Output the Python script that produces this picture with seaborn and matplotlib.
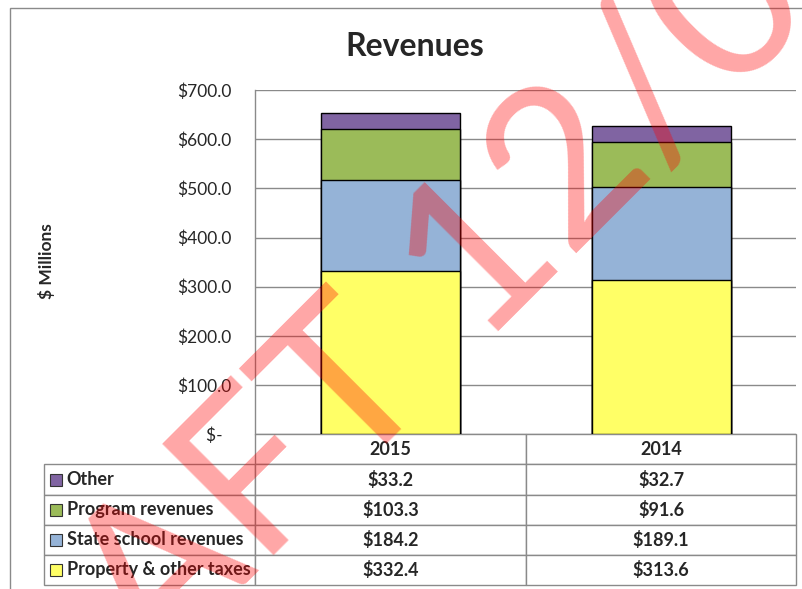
import pandas as pd
import matplotlib
matplotlib.use("Agg")
import matplotlib.pyplot as plt
import seaborn as sns
from matplotlib.patches import Rectangle

# data ($ millions)
years = ["2015", "2014"]
categories = ["Other", "Program revenues", "State school revenues", "Property & other taxes"]
other = [33.2, 32.7]
program = [103.3, 91.6]
state_school = [184.2, 189.1]
property_tax = [332.4, 313.6]
colors = ["#8064A2", "#9BBB59", "#95B3D7", "#FFFF66"]
yticks = [0, 100, 200, 300, 400, 500, 600, 700]

sns.set_style("white")
plt.rcParams["font.family"] = ["Lato", "DejaVu Sans"]

fig = plt.figure(figsize=(8.03, 5.89), dpi=100)
ax = fig.add_axes([255.25 / 803, 1 - 434.3 / 589, 541.25 / 803, 344.3 / 589])

# stacked bars drawn as cumulative overlays (top layer first)
df = pd.DataFrame({"year": years, "other": other, "program": program,
                   "state": state_school, "property": property_tax})
df["c_property"] = df["property"]
df["c_state"] = df["c_property"] + df["state"]
df["c_program"] = df["c_state"] + df["program"]
df["c_other"] = df["c_program"] + df["other"]

for col, c in zip(["c_other", "c_program", "c_state", "c_property"], colors):
    sns.barplot(data=df, x="year", y=col, order=years, color=c, width=0.514,
                edgecolor="black", linewidth=1.0, saturation=1, ax=ax, zorder=3)

ax.set_ylim(0, 700)
ax.set_xlim(-0.5, 1.5)
ax.set_yticks(yticks)
ax.set_yticklabels(["$-  "] + ["$%.1f" % v for v in yticks[1:]], fontsize=12.5)
ax.tick_params(axis="y", length=0, pad=17)
ax.set_xticks([])
ax.set_xlabel("")
ax.set_ylabel("")
ax.yaxis.grid(True, color="#8a8a8a", linewidth=1.0)
ax.set_axisbelow(True)
for s in ["top", "right", "bottom"]:
    ax.spines[s].set_visible(False)
ax.spines["left"].set_color("#8a8a8a")
ax.spines["left"].set_linewidth(1.0)

# data table under the plot
series = [other, program, state_school, property_tax]
cell_text = [["", years[0], years[1]]]
for name, vals in zip(categories, series):
    cell_text.append([name] + ["$%.1f" % v for v in vals])

tb_left = (44 - 255.25) / 541.25
tb_h = (585 - 434.3) / 344.3
tbl = ax.table(cellText=cell_text, cellLoc="center",
               colWidths=[211, 270.5, 270.5],
               bbox=[tb_left, -tb_h, 1 - tb_left, tb_h])
tbl.auto_set_font_size(False)
tbl.set_fontsize(13)
for (r, c), cell in tbl.get_celld().items():
    cell.set_edgecolor("#8a8a8a")
    cell.set_linewidth(1.0)
    cell.get_text().set_fontweight("bold")
    if c == 0:
        cell._loc = "left"
        cell.PAD = 0.108
        cell.get_text().set_ha("left")
tbl[0, 0].visible_edges = "open"

# legend keys in the table
row_h = tb_h / 5
for i, c in enumerate(colors):
    yc = -(i + 1.5) * row_h
    ax.add_patch(Rectangle(((50 - 255.25) / 541.25, yc - 6 / 344.3),
                           12 / 541.25, 12 / 344.3, facecolor=c,
                           edgecolor="#333333", linewidth=0.8,
                           transform=ax.transAxes, clip_on=False, zorder=5))

fig.text(414.5 / 803, 1 - 47 / 589, "Revenues", fontsize=23, fontweight="bold",
         ha="center", va="center")
fig.text(47 / 803, 1 - 261 / 589, "$ Millions", fontsize=12.5, fontweight="bold",
         rotation=90, ha="center", va="center")

# outer chart border
fig.add_artist(Rectangle((10 / 803, -0.1), 1.0, 1 - 8 / 589 + 0.1, fill=False,
                         edgecolor="#8a8a8a", linewidth=1.0,
                         transform=fig.transFigure))

# draft watermark
fig.text(-60 / 803, 1 - 890 / 589, "DRAFT 12/09/15", fontsize=158, color="red",
         alpha=0.35, rotation=45, rotation_mode="anchor", ha="left",
         va="baseline", zorder=10)

fig.savefig("out.png", dpi=100)
